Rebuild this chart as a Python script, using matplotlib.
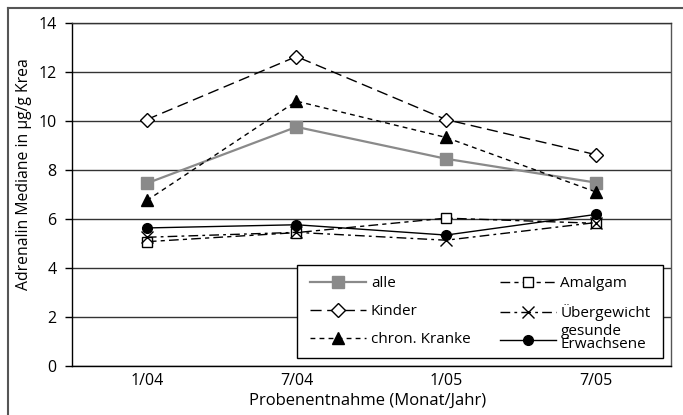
import numpy as np
import matplotlib
matplotlib.use("Agg")
import matplotlib.pyplot as plt
from matplotlib.lines import Line2D
from matplotlib.patches import Rectangle

plt.rcParams['font.family'] = ['Open Sans', 'DejaVu Sans']

# Probenentnahme (Monat/Jahr)
dates = ["1/04", "7/04", "1/05", "7/05"]

# Adrenalin Mediane in µg/g Krea
alle = [7.45, 9.75, 8.45, 7.48]
kinder = [10.05, 12.62, 10.05, 8.62]
chron_kranke = [6.75, 10.8, 9.32, 7.1]
amalgam = [5.07, 5.44, 6.03, 5.82]
uebergewicht = [5.25, 5.45, 5.13, 5.85]
gesunde = [5.63, 5.76, 5.34, 6.18]

fig = plt.figure(figsize=(6.83, 4.15), dpi=100)
ax = fig.add_axes([72 / 683, 49 / 415, 598.5 / 683, 343.3 / 415])

x = np.arange(len(dates)) + 0.5

# horizontal grid
for g in range(0, 15, 2):
    ax.axhline(g, color='#333333', lw=1.0, zorder=1)

lines = []
lines.append(ax.plot(x, alle, color='#8a8a8a', lw=1.6, marker='s', ms=8,
                     mfc='#8a8a8a', mec='#8a8a8a', zorder=3)[0])
lines.append(ax.plot(x, kinder, color='black', lw=1.0, ls=(0, (8, 4)), marker='D', ms=7.5,
                     mfc='white', mec='black', mew=1.0, zorder=3)[0])
lines.append(ax.plot(x, chron_kranke, color='black', lw=1.0, ls=(0, (3.5, 3)), marker='^', ms=9,
                     mfc='black', mec='black', zorder=3)[0])
lines.append(ax.plot(x, amalgam, color='black', lw=1.0, ls=(0, (7, 3, 3, 3)), marker='s', ms=7,
                     mfc='white', mec='black', mew=1.0, zorder=3)[0])
lines.append(ax.plot(x, uebergewicht, color='black', lw=1.0, ls=(0, (7, 3, 2, 3)), marker='x', ms=8,
                     mec='black', mew=1.0, zorder=3)[0])
lines.append(ax.plot(x, gesunde, color='black', lw=1.0, marker='o', ms=7,
                     mfc='black', mec='black', zorder=3)[0])

ax.set_xlim(0, 4)
ax.set_ylim(0, 14)
ax.set_xticks(x)
ax.set_xticklabels(dates)
ax.set_yticks(range(0, 15, 2))
ax.tick_params(axis='x', length=0, pad=5, labelsize=11.5)
ax.tick_params(axis='y', length=5, width=1, pad=6, labelsize=11.5)
for s in ax.spines.values():
    s.set_linewidth(1.0)
ax.spines['top'].set_color('#333333')
ax.spines['right'].set_color('#555555')

fig.text(24 / 683, 1 - 174 / 415, "Adrenalin Mediane in µg/g Krea", rotation=90,
         ha='center', va='center', fontsize=11.3)
fig.text(368 / 683, 1 - 401 / 415, "Probenentnahme (Monat/Jahr)",
         ha='center', va='center', fontsize=12)

# legend box
box = Rectangle((0.3759, 0.0233), 0.6116, 0.2709, transform=ax.transAxes,
                facecolor='white', edgecolor='black', lw=1.0, zorder=4)
ax.add_patch(box)

# last label is two lines; it's drawn next to an empty slot so the rows stay even
labels = ['alle', 'Kinder', 'chron. Kranke', 'Amalgam', 'Übergewicht', ' ']
leg = ax.legend(lines, labels, ncol=2, loc='upper left',
                bbox_to_anchor=(0.398, 0.2614), frameon=False,
                fontsize=11, handlelength=3.67, handletextpad=0.3,
                labelspacing=0.85, borderpad=0, columnspacing=1.9,
                borderaxespad=0)
leg.set_zorder(5)
ax.annotate("gesunde\nErwachsene", xy=(0, 0.5), xycoords=leg.get_texts()[5],
            xytext=(0, 4), textcoords='offset pixels',
            ha='left', va='center', fontsize=11, linespacing=0.85, zorder=6)

# outer frame
fig.add_artist(Line2D([8 / 683, 8 / 683], [0, 1 - 8 / 415], transform=fig.transFigure,
                      color='#555555', lw=1.5))
fig.add_artist(Line2D([8 / 683, 1], [1 - 8 / 415, 1 - 8 / 415], transform=fig.transFigure,
                      color='#555555', lw=1.5))

fig.savefig("out.png", dpi=100)
